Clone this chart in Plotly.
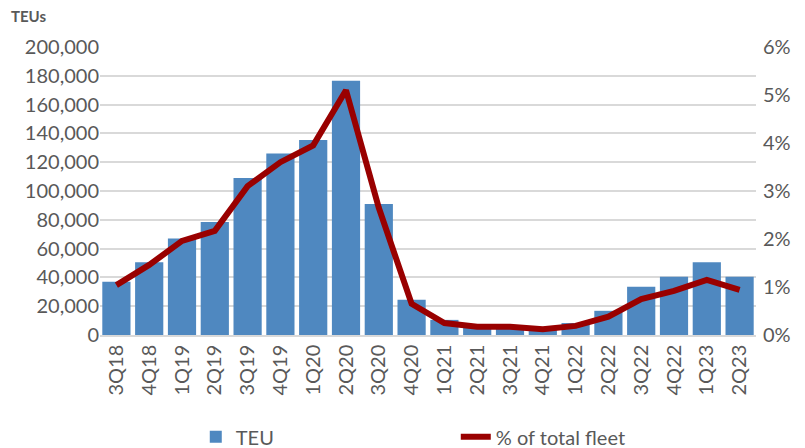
"""
containership idle / scrapped capacity by quarter, TEU and share of fleet
"""

import plotly.graph_objs as go

quarters = ["3Q18", "4Q18", "1Q19", "2Q19", "3Q19", "4Q19", "1Q20", "2Q20", "3Q20", "4Q20",
            "1Q21", "2Q21", "3Q21", "4Q21", "1Q22", "2Q22", "3Q22", "4Q22", "1Q23", "2Q23"]
teu = [37000, 50500, 67000, 78500, 109000, 126000, 135500, 176500, 91000, 24500,
       10500, 6500, 6000, 4000, 8300, 16800, 33500, 40500, 50500, 40500]
pct_fleet = [1.04, 1.46, 1.96, 2.17, 3.1, 3.6, 3.95, 5.1, 2.65, 0.65,
             0.25, 0.17, 0.17, 0.12, 0.19, 0.38, 0.75, 0.92, 1.15, 0.94]

left_ticks = [0, 20000, 40000, 60000, 80000, 100000, 120000, 140000, 160000, 180000, 200000]
right_ticks = [0, 1, 2, 3, 4, 5, 6]

font_name = "Lato"
grey = "#595959"

fig = go.Figure()
fig.add_trace(go.Bar(
    x=quarters, y=teu, name="TEU",
    marker=dict(color="#4f88c0", line=dict(width=0)),
))
fig.add_trace(go.Scatter(
    x=quarters, y=pct_fleet, name="% of total fleet", yaxis="y2",
    mode="lines", line=dict(color="#990000", width=6),
))

fig.update_layout(
    width=805, height=448,
    margin=dict(l=100, r=49, t=47, b=113),
    paper_bgcolor="white", plot_bgcolor="white",
    font=dict(family=font_name, size=20, color=grey),
    bargap=0.14,
    xaxis=dict(tickangle=-90, tickfont=dict(size=20, color=grey), showgrid=False,
               showline=True, linecolor="#d9d9d9", linewidth=1.5, ticks="",
               automargin=False),
    yaxis=dict(range=[0, 200000], tickvals=left_ticks,
               ticktext=[f"{v:,}" for v in left_ticks],
               tickfont=dict(size=20, color=grey),
               showgrid=True, gridcolor="#d9d9d9", gridwidth=1.5, zeroline=False,
               ticks="", automargin=False),
    yaxis2=dict(range=[0, 6], tickvals=right_ticks,
                ticktext=[f"{v}%" for v in right_ticks],
                tickfont=dict(size=20, color=grey),
                overlaying="y", side="right", showgrid=False, zeroline=False,
                ticks="", ticklabelstandoff=6, automargin=False),
    showlegend=True,
    legend=dict(orientation="h", x=0.146, xanchor="left",
                yref="container", y=0.025, yanchor="middle",
                entrywidth=215, entrywidthmode="pixels",
                font=dict(size=20, color=grey), traceorder="normal"),
    annotations=[dict(text="<b>TEUs</b>", xref="paper", yref="paper",
                      x=-0.138, y=1.07, xanchor="left", yanchor="bottom",
                      showarrow=False, font=dict(size=15, color=grey))],
)

fig.write_html("out.html", config={"displayModeBar": False},
               post_script="document.body.style.margin='0';")
